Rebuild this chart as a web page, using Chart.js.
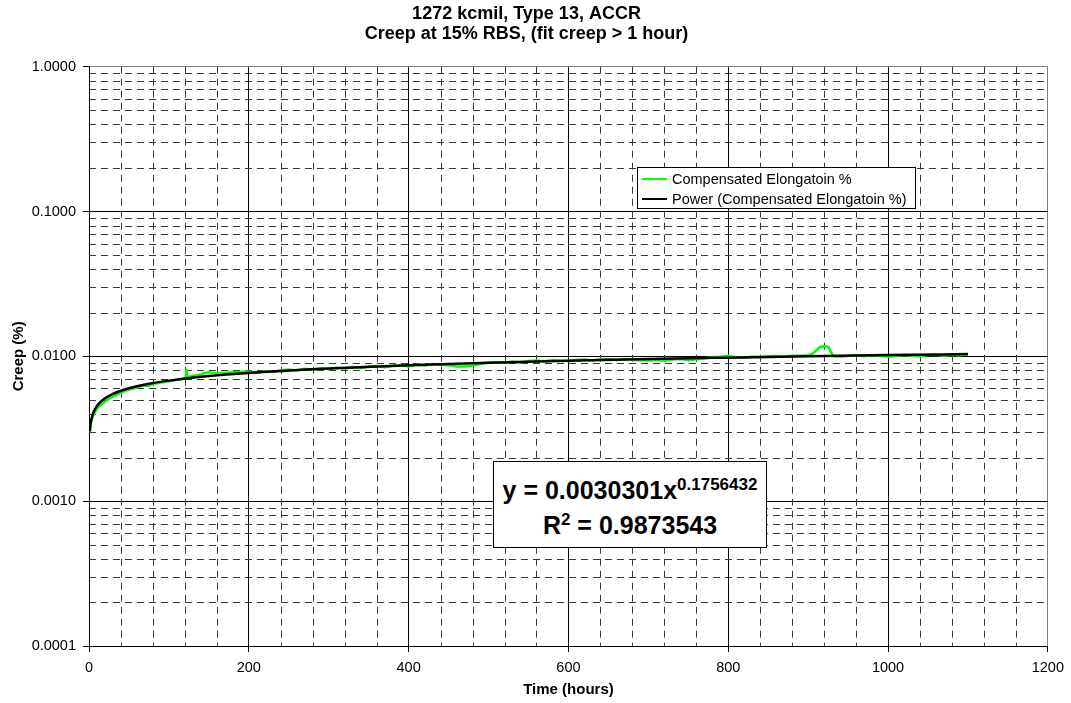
<!DOCTYPE html>
<html><head><meta charset="utf-8">
<script src="https://cdn.jsdelivr.net/npm/chart.js@4.4.1/dist/chart.umd.min.js"></script>
<style>
html,body{margin:0;padding:0;background:#fff;}
#wrap{position:relative;width:1071px;height:703px;overflow:hidden;}
canvas{display:block;}
.box{position:absolute;background:#fff;border:1px solid #000;font-family:"Liberation Sans",Arial,sans-serif;color:#000;box-sizing:border-box;}
#legend .row{position:absolute;left:0;height:21px;line-height:21px;font-size:14.5px;white-space:nowrap;}
#legend .swatch{position:absolute;left:4px;top:9px;width:25px;height:0;border-top-width:2px;border-top-style:solid;}
#legend .txt{position:absolute;left:34px;top:0;}
#eq{text-align:center;font-weight:bold;font-size:25px;}
#eq .l{position:absolute;left:0;right:0;white-space:nowrap;}
#eq sup{font-size:17px;vertical-align:0.55em;line-height:0;}
</style></head><body>
<div id="wrap"><canvas id="c" width="1071" height="703"></canvas>
<div id="legend" class="box"></div>
<div id="eq" class="box"></div>
</div>
<script>
// ---- data ----
const titleLines = ['1272 kcmil, Type 13, ACCR', 'Creep at 15% RBS, (fit creep > 1 hour)'];
const xTitle = 'Time (hours)';
const yTitle = 'Creep (%)';
const seriesNames = ['Compensated Elongatoin %', 'Power (Compensated Elongatoin %)'];
const xTickValues = [0, 200, 400, 600, 800, 1000, 1200];
const yTickValues = [0.0001, 0.001, 0.01, 0.1, 1];
const xMinorStep = 40;
const yMinorMultipliers = [2, 3, 4, 5, 6, 7, 8, 9];

const hours = [1,2,3,5,8,12,16,20,25,30,35,40,45,50,55,60,65,70,75,80,90,100,110,118,121,122,123,130,140,145,150,160,170,180,190,
  200,210,220,230,240,250,260,270,280,290,300,310,320,330,340,350,360,370,380,390,400,
  410,420,430,440,450,460,470,480,490,500,510,520,530,540,550,560,570,580,590,600,
  610,620,630,640,650,660,670,680,690,700,710,720,730,740,750,760,770,780,790,800,
  810,820,830,840,850,860,870,880,890,900,905,910,915,920,925,928,932,940,950,960,970,980,990,1000,
  1010,1020,1030,1040,1050,1060,1070,1080,1090,1100];
const elongation = [0.00300,0.00335,0.00360,0.00390,0.00420,0.00448,0.00468,0.00485,0.00510,0.00528,0.00545,0.00560,0.00578,0.00590,0.00600,0.00612,0.00622,0.00630,0.00628,0.00645,0.00660,0.00672,0.00688,0.00700,0.00712,0.00820,0.00718,0.00735,0.00748,0.00770,0.00776,0.00765,0.00770,0.00776,0.00780,
  0.00784,0.00772,0.00790,0.00780,0.00802,0.00810,0.00798,0.00820,0.00808,0.00828,0.00816,0.00835,0.00824,0.00842,0.00830,0.00850,0.00858,0.00842,0.00862,0.00868,0.00852,
  0.00876,0.00864,0.00886,0.00874,0.00868,0.00852,0.00850,0.00860,0.00888,0.00902,0.00912,0.00900,0.00920,0.00908,0.00930,0.00938,0.00925,0.00945,0.00932,0.00928,
  0.00942,0.00950,0.00936,0.00954,0.00960,0.00944,0.00960,0.00948,0.00940,0.00936,0.00948,0.00934,0.00950,0.00958,0.00942,0.00954,0.00968,0.00990,0.00995,0.01004,
  0.00986,0.00980,0.00998,0.00988,0.01000,0.01006,0.00994,0.01008,0.01010,0.01018,0.01040,0.01100,0.01160,0.01175,0.01165,0.01080,0.01000,0.00992,0.01010,0.01015,0.01002,0.01018,0.01010,0.00992,
  0.01006,0.01022,0.01010,0.00996,0.01020,0.01026,0.01010,0.01026,0.01016,0.01030];

const fitHours = [1,1.5,2,3,5,7,10,15,20,30,40,50,75,100,150,200,300,400,500,600,700,800,900,1000,1100];
const fitValues = [0.00303,0.003254,0.00342,0.00367,0.00402,0.00426,0.00454,0.00488,0.00513,0.00551,0.00579,0.00602,0.00647,0.00680,0.00731,0.00768,0.00825,0.00868,0.00903,0.00932,0.00958,0.00980,0.01001,0.01020,0.01037];

const eqCoef = '0.0030301';
const eqExp = '0.1756432';
const eqR2 = '0.9873543';

const seriesColors = ['#00FF00', '#000000'];
const FONT = '"Liberation Sans", Arial, sans-serif';

const minorGrid = {
  id: 'minorGrid',
  beforeDatasetsDraw(chart) {
    const {ctx, chartArea: a, scales: {x, y}} = chart;
    ctx.save();
    ctx.strokeStyle = '#3a3a3a';
    ctx.lineWidth = 1;
    ctx.setLineDash([7, 5]);
    ctx.beginPath();
    for (let v = xMinorStep; v < x.max; v += xMinorStep) {
      if (xTickValues.includes(v)) continue;
      const px = Math.round(x.getPixelForValue(v)) + 0.5;
      ctx.moveTo(px, a.top); ctx.lineTo(px, a.bottom);
    }
    for (let i = 0; i < yTickValues.length - 1; i++) {
      for (const k of yMinorMultipliers) {
        const py = Math.round(y.getPixelForValue(k * yTickValues[i])) + 0.5;
        ctx.moveTo(a.left, py); ctx.lineTo(a.right, py);
      }
    }
    ctx.stroke();
    ctx.restore();
  }
};

const chart = new Chart(document.getElementById('c'), {
  type: 'scatter',
  data: {
    datasets: [
      { label: seriesNames[0], data: hours.map((h, i) => ({x: h, y: elongation[i]})),
        showLine: true, borderColor: seriesColors[0], borderWidth: 2.5, pointRadius: 0, tension: 0, order: 2 },
      { label: seriesNames[1], data: fitHours.map((h, i) => ({x: h, y: fitValues[i]})),
        showLine: true, borderColor: seriesColors[1], borderWidth: 2.5, pointRadius: 0, tension: 0.4, cubicInterpolationMode: 'monotone', order: 1 }
    ]
  },
  options: {
    responsive: false, animation: false,
    layout: { padding: { left: 0, right: 18, top: 0, bottom: 0 } },
    plugins: {
      legend: { display: false },
      tooltip: { enabled: false },
      title: { display: true, text: titleLines, color: '#000',
        font: { family: FONT, size: 18, weight: 'bold', lineHeight: 1.12 },
        padding: { top: 4, bottom: 22.4 } }
    },
    scales: {
      x: {
        type: 'linear', min: 0, max: 1200,
        afterBuildTicks: s => { s.ticks = xTickValues.map(v => ({value: v})); },
        afterFit: s => { s.height = 57; },
        ticks: { color: '#000', font: { family: FONT, size: 14.5 }, padding: 7, autoSkip: false, maxRotation: 0,
          callback: v => String(v) },
        grid: { color: c => (c.tick && c.tick.value === 1200) ? '#808080' : '#000', lineWidth: 1, tickLength: 6, tickColor: '#000' },
        border: { color: '#000', width: 1 },
        title: { display: true, text: xTitle, color: '#000', font: { family: FONT, size: 15, weight: 'bold' }, padding: { top: 0, bottom: 4 } }
      },
      y: {
        type: 'logarithmic', min: 0.0001, max: 1,
        afterBuildTicks: s => { s.ticks = yTickValues.map(v => ({value: v})); },
        afterFit: s => { s.width = 89; },
        ticks: { color: '#000', font: { family: FONT, size: 14.5 }, padding: 7, autoSkip: false,
          callback: v => Number(v).toFixed(4) },
        grid: { color: c => (c.tick && c.tick.value === 1) ? '#808080' : '#000', lineWidth: 1, tickLength: 6, tickColor: '#000' },
        border: { color: '#000', width: 1 },
        title: { display: true, text: yTitle, color: '#000', font: { family: FONT, size: 15, weight: 'bold' }, padding: { top: 10, bottom: 0 } }
      }
    }
  },
  plugins: [minorGrid]
});

// legend box
const lg = document.getElementById('legend');
Object.assign(lg.style, { left: '637px', top: '167px', width: '279px', height: '42px' });
seriesNames.forEach((n, i) => {
  const r = document.createElement('div');
  r.className = 'row';
  r.style.top = (1 + i * 20) + 'px';
  r.innerHTML = '<span class="swatch" style="border-top-color:' + seriesColors[i] + '"></span><span class="txt"></span>';
  r.querySelector('.txt').textContent = n;
  lg.appendChild(r);
});

// equation box
const eq = document.getElementById('eq');
Object.assign(eq.style, { left: '493px', top: '461px', width: '274px', height: '87px' });
eq.innerHTML = '<div class="l" style="top:14px">y = ' + eqCoef + 'x<sup>' + eqExp + '</sup></div>' +
               '<div class="l" style="top:49px">R<sup>2</sup> = ' + eqR2 + '</div>';
</script>
</body></html>
